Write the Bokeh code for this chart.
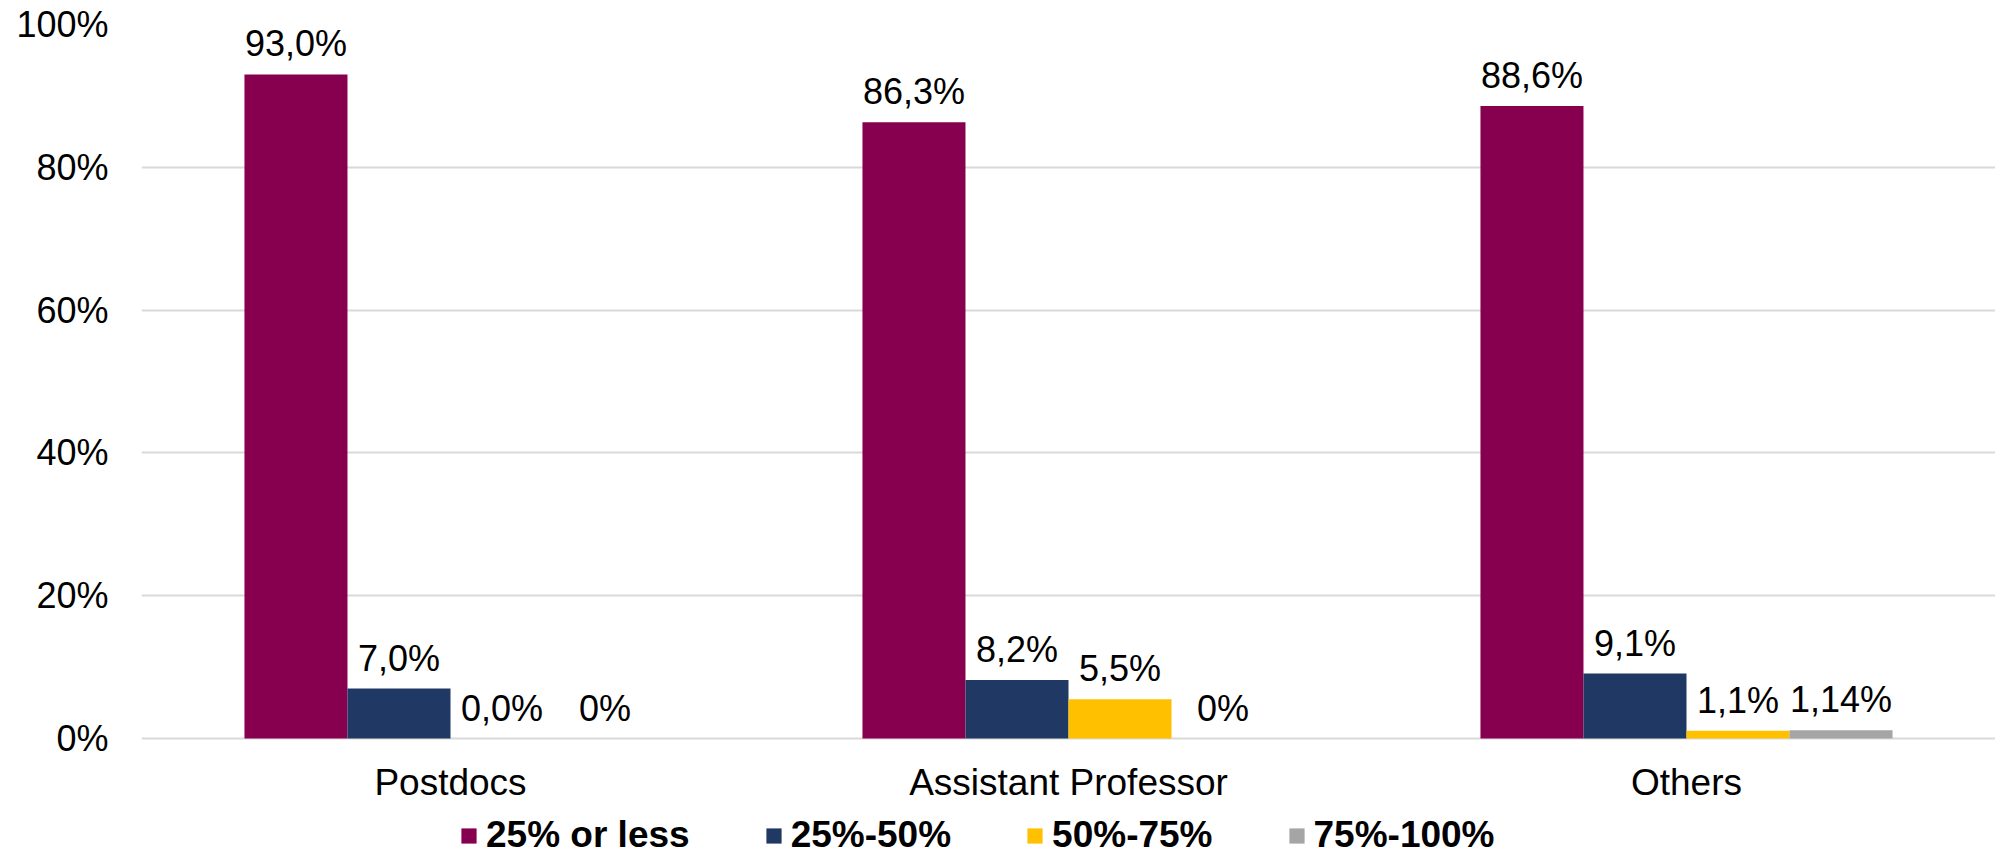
from bokeh.plotting import figure
from bokeh.models import (FactorRange, Range1d, FixedTicker, PrintfTickFormatter,
                          LabelSet, ColumnDataSource, Legend, LegendItem)
from bokeh.transform import dodge
from bokeh.core.properties import value
from bokeh.embed import file_html
from bokeh.resources import INLINE

categories = ["Postdocs", "Assistant Professor", "Others"]
series = ["25% or less", "25%-50%", "50%-75%", "75%-100%"]
colors = ["#870050", "#203864", "#FFC000", "#A5A5A5"]
v_25_or_less = [93.0, 86.3, 88.6]
v_25_50 = [7.0, 8.2, 9.1]
v_50_75 = [0.0, 5.5, 1.1]
v_75_100 = [0.0, 0.0, 1.14]
labels_25_or_less = ["93,0%", "86,3%", "88,6%"]
labels_25_50 = ["7,0%", "8,2%", "9,1%"]
labels_50_75 = ["0,0%", "5,5%", "1,1%"]
labels_75_100 = ["0%", "0%", "1,14%"]
y_ticks = [0, 20, 40, 60, 80, 100]

FONT = "Liberation Sans"
values = [v_25_or_less, v_25_50, v_50_75, v_75_100]
labels = [labels_25_or_less, labels_25_50, labels_50_75, labels_75_100]

bar_w = 0.1667
offsets = [-1.5 * bar_w, -0.5 * bar_w, 0.5 * bar_w, 1.5 * bar_w]

W, H = 1995, 856
left_px = 141
top_px, zero_px = 24, 738
y_start = -(H - zero_px) / (zero_px - top_px) * 100

p = figure(x_range=FactorRange(*categories), y_range=Range1d(y_start, 100),
           width=W, height=H, output_backend="svg", toolbar_location=None,
           min_border_left=left_px, min_border_right=0, min_border_top=top_px,
           min_border_bottom=0)

items = []
for i, name in enumerate(series):
    src = ColumnDataSource(dict(cat=categories, val=values[i], lab=labels[i]))
    xs = dodge("cat", offsets[i], range=p.x_range)
    r = p.vbar(x=xs, top="val", bottom=0, width=bar_w, source=src,
               fill_color=colors[i], line_color=None)
    items.append(LegendItem(label=name, renderers=[r]))
    ls = LabelSet(x=xs, y="val", text="lab", source=src,
                  text_align="center", text_baseline="alphabetic", y_offset=18,
                  text_font=value(FONT), text_font_size="36px",
                  text_color="#000000")
    p.add_layout(ls)

legend = Legend(items=items, orientation="horizontal", location=(459 - left_px, 0),
                label_text_font=FONT, label_text_font_size="37px",
                label_text_font_style="bold", label_text_color="#000000",
                glyph_width=19, glyph_height=19, label_standoff=8, spacing=74,
                padding=0, margin=0, border_line_color=None,
                background_fill_alpha=0)
p.add_layout(legend, "center")

p.xaxis.fixed_location = 0
p.yaxis.ticker = FixedTicker(ticks=y_ticks)
p.yaxis.formatter = PrintfTickFormatter(format="%d%%")
for ax in (p.xaxis, p.yaxis):
    ax.axis_line_color = None
    ax.major_tick_line_color = None
    ax.minor_tick_line_color = None
    ax.major_tick_out = 0
    ax.major_tick_in = 0
    ax.major_label_text_font = FONT
    ax.major_label_text_color = "#000000"
p.yaxis.major_label_standoff = 33
p.xaxis.major_label_standoff = 23
p.yaxis.major_label_text_font_size = "36px"
p.xaxis.major_label_text_font_size = "37px"

p.xgrid.grid_line_color = None
p.ygrid.grid_line_color = "#d9d9d9"
p.ygrid.grid_line_width = 2
p.outline_line_color = None

open("out.html", "w").write(file_html(p, INLINE))
